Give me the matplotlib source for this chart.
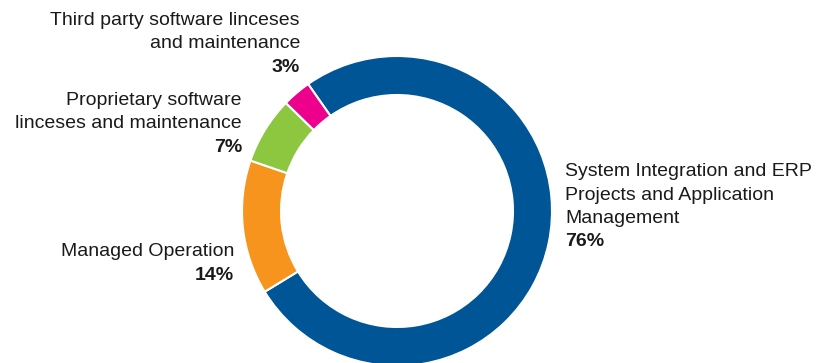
import matplotlib.pyplot as plt

plt.rcParams['font.family'] = ['Liberation Sans', 'DejaVu Sans']

labels = [
    "System Integration and ERP\nProjects and Application\nManagement",
    "Managed Operation",
    "Proprietary software\nlinceses and maintenance",
    "Third party software linceses\nand maintenance",
]
values = [76, 14, 7, 3]
colors = ['#005596', '#F7941D', '#8DC63F', '#EC008C']

W, H = 819, 363
fig = plt.figure(figsize=(W / 100, H / 100), dpi=100)
ax = fig.add_axes([0, 0, 1, 1])

# donut, pixel coordinates (y up)
cx, cy, R, ring = 397, H - 211, 155, 39
ax.pie(values, colors=colors, startangle=125, counterclock=False,
       center=(cx, cy), radius=R,
       wedgeprops=dict(width=ring, edgecolor='white', linewidth=1.5))
ax.set_xlim(0, W)
ax.set_ylim(0, H)
ax.set_aspect('auto')
ax.axis('off')

# label anchors: (x, baseline of first line, alignment)
anchors = [
    (565, 176, 'left'),
    (234, 256, 'right'),
    (242, 105, 'right'),
    (300, 25, 'right'),
]
fs = 14
line = 23.5
for lab, v, (x, y, ha) in zip(labels, values, anchors):
    lines = lab.split('\n')
    for i, s in enumerate(lines):
        ax.text(x, H - (y + i * line), s, ha=ha, va='baseline',
                fontsize=fs, color='#1a1a1a')
    ax.text(x, H - (y + len(lines) * line), f"{v}%", ha=ha, va='baseline',
            fontsize=fs, fontweight='bold', color='#1a1a1a')

fig.savefig('out.png', dpi=100)
